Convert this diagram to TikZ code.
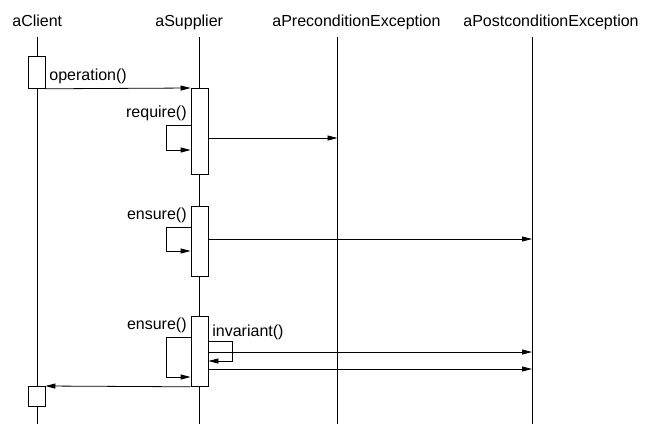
\documentclass[tikz,border=0pt]{standalone}
\usepackage{fontspec}
\setmainfont{Liberation Sans}
\usetikzlibrary{arrows.meta,positioning,calc}
\tikzstyle{act}=[draw,fill=white,minimum width=17pt,inner sep=0pt,anchor=north]
\tikzstyle{msg}=[-{Triangle[length=10pt,width=5pt]}]
\tikzstyle{lbl}=[inner sep=0pt,font=\fontsize{16}{18}\selectfont]

\begin{document}
\begin{tikzpicture}[x=1pt,y=-1pt,line width=0.8pt]
  \useasboundingbox (0,0) rectangle (645,424);
  % objects
  \node [lbl,anchor=base west] (client) at (12,26) {aClient};
  \node [lbl,anchor=base west] (supplier) at (155,26) {aSupplier};
  \node [lbl,anchor=base west] (pre) at (272,26) {aPreconditionException};
  \node [lbl,anchor=base west] (post) at (463,26) {aPostconditionException};
  \coordinate (lc) at (37,37);
  \coordinate (ls) at (199.5,37);
  \coordinate (lp) at (337.5,37);
  \coordinate (lq) at (532,37);
  \coordinate (bottom) at (0,424);
  % lifelines
  \foreach \l in {lc,ls,lp,lq}
    \draw (\l) -- (\l |- bottom);
  % activations
  \node [act,minimum height=32pt] (c1) at (36.5,56) {};
  \node [act,minimum height=20pt] (c2) at (36.5,386) {};
  \node [act,minimum height=86pt] (s1) at (199.5,88) {};
  \node [act,minimum height=70pt] (s2) at (199.5,206) {};
  \node [act,minimum height=70pt] (s3) at (199.5,316) {};
  % operation
  \draw [msg] (c1.south east) -- (s1.north west);
  \node [lbl,anchor=base west] (op) at (49,80) {operation()};
  % require
  \node [lbl,anchor=base east] (req) at (187,117) {require()};
  \draw [msg] ($(s1.north west)+(0,37)$) -- ++(-24,0) -- ++(0,25) -- ++(24,0);
  \draw [msg] ($(s1.north east)+(0,50)$) coordinate (a1) -- (lp |- a1);
  % ensure
  \node [lbl,anchor=base east] (ens1) at (187,219) {ensure()};
  \draw [msg] ($(s2.north west)+(0,21)$) -- ++(-24,0) -- ++(0,24) -- ++(24,0);
  \draw [msg] ($(s2.north east)+(0,33)$) coordinate (a2) -- (lq |- a2);
  % ensure + invariant
  \node [lbl,anchor=base east] (ens2) at (187,329) {ensure()};
  \node [lbl,anchor=base west] (inv) at (212,336) {invariant()};
  \draw [msg] ($(s3.north west)+(0,21)$) -- ++(-24,0) -- ++(0,40) -- ++(24,0);
  \draw [msg] ($(s3.north east)+(0,25)$) -- ++(24,0) -- ++(0,20) -- ++(-24,0);
  \draw [msg] ($(s3.north east)+(0,36)$) coordinate (a3) -- (lq |- a3);
  \draw [msg] ($(s3.north east)+(0,53)$) coordinate (a4) -- (lq |- a4);
  % return
  \draw [msg] (s3.south west) -- (c2.north east);
\end{tikzpicture}
\end{document}
